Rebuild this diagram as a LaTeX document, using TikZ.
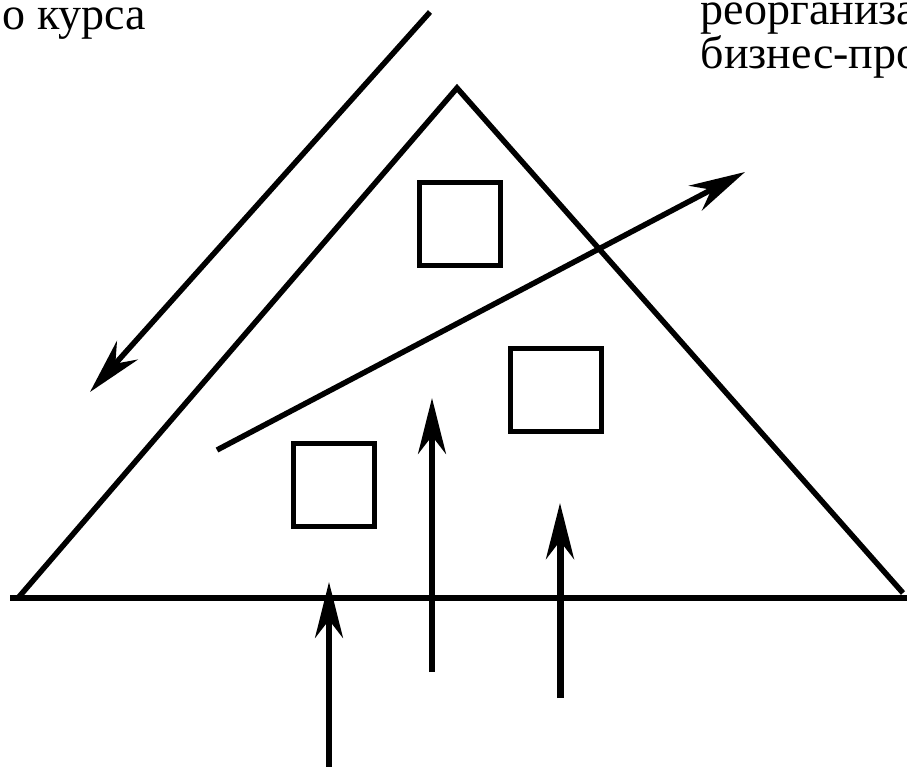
\documentclass[tikz,border=0pt]{standalone}
\usepackage{fontspec}
\setmainfont{Liberation Serif}
\usetikzlibrary{arrows.meta,positioning}

\begin{document}
\begin{tikzpicture}[x=1pt, y=-1pt, >={Stealth[length=56pt,width=28pt,inset=18pt]}, line width=5.5pt,
    every node/.style={font=\fontsize{46}{40}\selectfont, inner sep=0pt},
    unitbox/.style={draw, line width=5pt, minimum width=81pt, minimum height=83pt}]
    \useasboundingbox (0,0) rectangle (907,766);

    % Pyramid with its base line
    \draw[line join=miter] (18,598) -- (457,88) -- (903,593);
    \draw (10,598) -- (907,598);

    % Units inside the pyramid
    \node[unitbox] (unitTop) at (459.5,224) {};
    \node[unitbox, minimum width=91pt] (unitMid) at (555.5,390) {};
    \node[unitbox] (unitLow) at (333.5,484.5) {};

    % Top-down course (outside, along the left side)
    \coordinate (courseStart) at (430,12);
    \coordinate (courseEnd) at (90,392);
    \draw[->] (courseStart) -- (courseEnd);

    % Reorganisation of business processes (across the pyramid)
    \coordinate (reorgStart) at (217,450);
    \coordinate (reorgEnd) at (745,172);
    \draw[->] (reorgStart) -- (reorgEnd);

    % Bottom-up initiatives
    \coordinate (upA0) at (329,775);
    \coordinate (upA1) at (329,582);
    \coordinate (upB0) at (432,672);
    \coordinate (upB1) at (432,398);
    \coordinate (upC0) at (560,698);
    \coordinate (upC1) at (560,503);
    \draw[->] (upA0) -- (upA1);
    \draw[->] (upB0) -- (upB1);
    \draw[->, line width=7pt] (upC0) -- (upC1);

    % Captions
    \node[anchor=base west] (courseLbl) at (0,29) {о курса};
    \node[anchor=base west, align=left] (reorgLbl) at (698,68) {реорганиза\\бизнес-про};
\end{tikzpicture}
\end{document}
